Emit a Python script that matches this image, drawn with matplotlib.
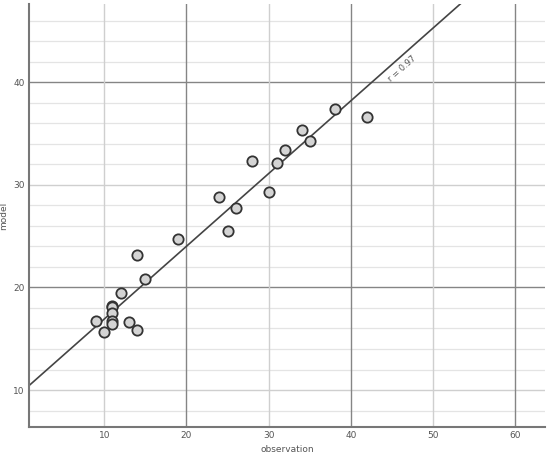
import matplotlib.pyplot as plt
import numpy as np

# data
observation = [9, 10, 11, 11, 11, 11, 11, 12, 13, 14, 14, 15, 19, 24, 25, 26, 28, 30, 31, 32, 34, 35, 38, 42]
model = [16.7, 15.7, 18.2, 18.1, 17.5, 16.7, 16.4, 19.5, 16.6, 15.85, 23.2, 20.8, 24.7, 28.85, 25.5, 27.7, 32.3, 29.3, 32.1, 33.4, 35.3, 34.25, 37.4, 36.6]

fit_intercept = 9.83
fit_slope = 0.709
r_label = "r = 0.97"

fig = plt.figure(figsize=(5.5, 4.58), dpi=100)
ax = fig.add_axes([0.0527, 0.0683, 0.9383, 0.9227])

ax.set_xlim(0.85, 63.6)
ax.set_ylim(6.43, 47.6)

# grid: light minor lines every 2 on y, majors every 10 (darker every 20)
for y in np.arange(8, 48, 2):
    if y % 10:
        ax.axhline(y, color='#e4e4e4', lw=0.9, zorder=0)
for y in [10, 20, 30, 40]:
    ax.axhline(y, color='#858585' if y % 20 == 0 else '#cfcfcf', lw=1.0, zorder=0)
for x in [10, 20, 30, 40, 50, 60]:
    ax.axvline(x, color='#858585' if x % 20 == 0 else '#cfcfcf', lw=1.0, zorder=0)

xs = np.array(ax.get_xlim())
ax.plot(xs, fit_intercept + fit_slope * xs, color='#444444', lw=1.2, zorder=2)

ax.scatter(observation, model, s=55, facecolor='#d4d4d4', edgecolor='#333333',
           linewidth=1.3, zorder=3)

ax.text(46.2, 41.3, r_label, rotation=41.6, fontsize=6, color='#555555',
        ha='center', va='center')

ax.set_xticks([10, 20, 30, 40, 50, 60])
ax.set_yticks([10, 20, 30, 40])
ax.tick_params(length=0, labelsize=6.5, colors='#555555', pad=3)
ax.set_xlabel('observation', fontsize=6.5, color='#555555', labelpad=4)
ax.set_ylabel('model', fontsize=6.5, color='#555555')
ax.yaxis.set_label_coords(-0.04, 0.5)

for s in ['top', 'right']:
    ax.spines[s].set_visible(False)
for s in ['left', 'bottom']:
    ax.spines[s].set_color('#777777')
    ax.spines[s].set_linewidth(1.5)

fig.savefig('out.png', dpi=100)
